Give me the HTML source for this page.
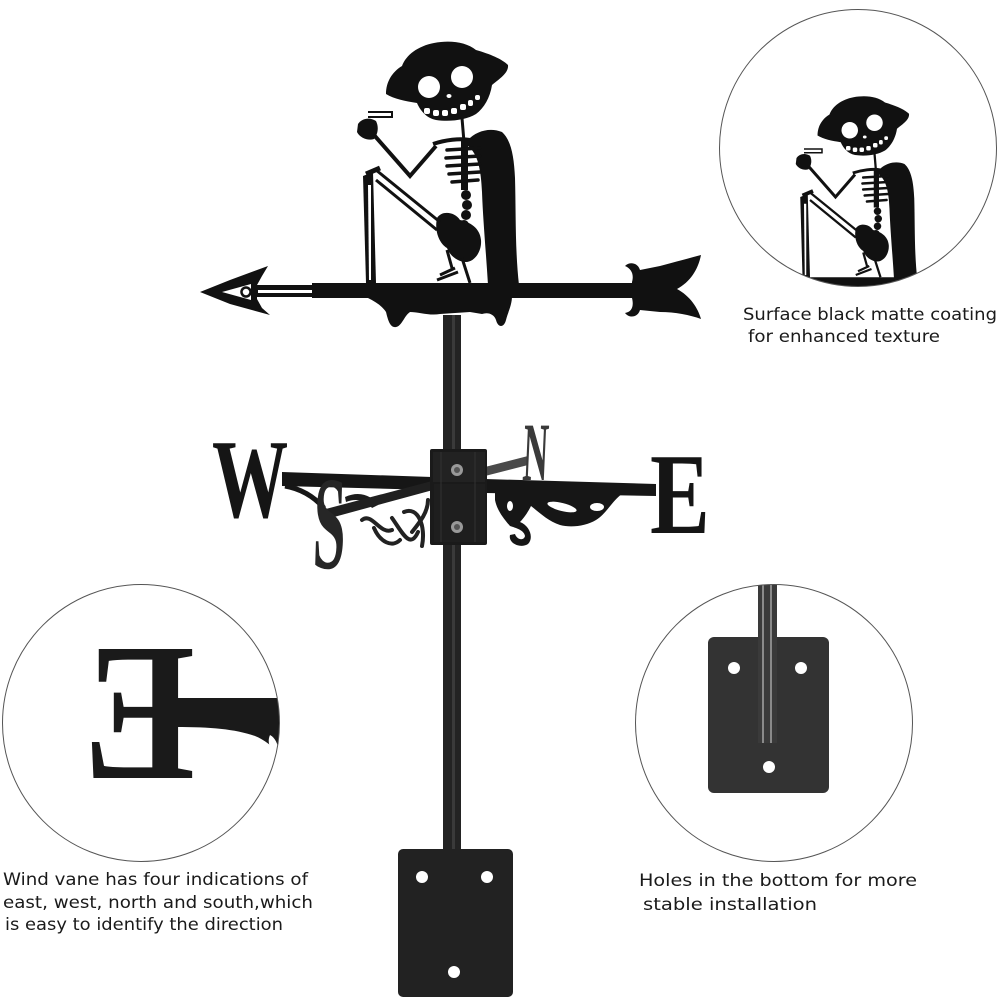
<!DOCTYPE html>
<html>
<head>
<meta charset="utf-8">
<style>
  html,body{margin:0;padding:0;background:#fff;}
  svg{display:block;}
  .cap{font-family:"DejaVu Sans","Liberation Sans",sans-serif;font-size:17px;fill:#1a1a1a;}
  .let{font-family:"Liberation Serif","DejaVu Serif",serif;font-weight:bold;}
</style>
</head>
<body>
<svg width="1000" height="1000" viewBox="0 0 1000 1000" xmlns="http://www.w3.org/2000/svg">
  <defs>
    <clipPath id="cTR"><circle cx="858" cy="148" r="138.5"/></clipPath>
    <clipPath id="cL"><circle cx="141" cy="723" r="138.5"/></clipPath>
    <clipPath id="cR"><circle cx="774" cy="723" r="138.5"/></clipPath>

    <g id="skel">
      <!-- hat + skull -->
      <path fill="#111" d="M386,94 C386,82 392,72 402,66 C406,55 418,46 434,43 C450,40 466,42 476,50 C490,54 502,59 508,65 C509,73 499,79 492,85 C490,98 484,108 476,114 C466,120 450,122 436,120 C426,118 420,110 417,103 C405,101 394,99 386,94 Z"/>
      <circle cx="429" cy="87" r="11" fill="#fff"/>
      <circle cx="462" cy="77" r="11" fill="#fff"/>
      <ellipse cx="449" cy="96" rx="2.5" ry="2" fill="#fff"/>
      <g fill="#fff">
        <rect x="424" y="108" width="6" height="6" rx="2"/>
        <rect x="433" y="110" width="6" height="6" rx="2"/>
        <rect x="442" y="110" width="6" height="6" rx="2"/>
        <rect x="451" y="108" width="6" height="6" rx="2"/>
        <rect x="460" y="104" width="6" height="6" rx="2"/>
        <rect x="468" y="100" width="5" height="6" rx="2"/>
        <rect x="475" y="95" width="5" height="5" rx="2"/>
      </g>
      <!-- neck -->
      <line x1="462" y1="118" x2="464" y2="142" stroke="#111" stroke-width="3"/>
      <!-- cigarette -->
      <path d="M368,112 L392,112 L392,117 L368,117" fill="none" stroke="#111" stroke-width="2"/>
      <!-- hand -->
      <path fill="#111" d="M358,124 C362,118 370,117 376,121 C379,127 378,134 374,139 C368,141 360,138 357,132 Z"/>
      <!-- arm -->
      <polyline points="374,135 410,176 436,146" fill="none" stroke="#111" stroke-width="4"/>
      <!-- shoulder line -->
      <path d="M433,144 C445,140 460,138 470,140" fill="none" stroke="#111" stroke-width="4"/>
      <!-- cape -->
      <path fill="#111" d="M468,140 C476,131 490,127 502,132 C511,140 514,156 515,178 C516,212 515,250 519,285 L488,285 C486,252 483,220 482,192 C481,170 478,154 468,146 Z"/>
      <!-- ribcage -->
      <rect x="461" y="140" width="7" height="50" fill="#111"/>
      <g stroke="#111" stroke-width="3.5" stroke-linecap="round">
        <line x1="447" y1="150" x2="480" y2="148"/>
        <line x1="446" y1="158" x2="480" y2="156"/>
        <line x1="447" y1="166" x2="480" y2="164"/>
        <line x1="449" y1="174" x2="480" y2="172"/>
        <line x1="452" y1="182" x2="478" y2="180"/>
      </g>
      <!-- spine -->
      <g fill="#111">
        <ellipse cx="466" cy="195" rx="5" ry="5"/>
        <ellipse cx="467" cy="205" rx="5" ry="5"/>
        <ellipse cx="466" cy="215" rx="5" ry="5"/>
        <ellipse cx="464" cy="225" rx="5" ry="5"/>
      </g>
      <!-- pelvis / hands -->
      <path fill="#111" d="M437,218 C442,210 455,212 460,220 C470,222 480,228 481,240 C482,252 474,262 466,262 C458,262 450,256 447,248 C440,244 434,232 437,218 Z"/>
      <path d="M447,250 L452,268 M462,258 L470,283 M437,280 L458,272 M440,275 L455,268" stroke="#111" stroke-width="3" fill="none"/>
      <!-- leg -->
      <path fill="#111" d="M363,176 L373,172 L376,283 L366,283 Z"/>
      <path fill="#fff" d="M368,185 L371,185 L371,280 L369,280 Z"/>
      <path d="M366,174 L380,168" stroke="#111" stroke-width="5"/>
      <!-- thigh -->
      <line x1="376" y1="170" x2="440" y2="222" stroke="#111" stroke-width="3"/>
      <line x1="376" y1="180" x2="437" y2="230" stroke="#111" stroke-width="3"/>
      <!-- bar -->
      <rect x="255" y="285" width="60" height="12" fill="#111"/>
      <rect x="312" y="283" width="322" height="15" fill="#111"/>
      <rect x="258" y="290" width="54" height="3" fill="#fff"/>
      <!-- arrowhead -->
      <path fill="#111" d="M200,292 L230,280 L268,266 L262,276 L257,285 L257,299 L262,308 L270,315 L230,304 Z"/>
      <path fill="#fff" d="M222,292 L251,284 L251,300 Z"/>
      <circle cx="246" cy="292" r="4.5" fill="#fff" stroke="#111" stroke-width="2.5"/>
      <!-- tail -->
      <path fill="#111" d="M625,266 C630,261 638,263 640,270 L660,266 C675,262 690,258 701,255 C698,270 690,282 677,289 C690,296 698,308 701,319 C690,315 675,312 660,312 L640,310 C638,317 630,319 625,313 C632,312 634,306 632,298 L632,282 C634,275 632,269 625,266 Z"/>
      <!-- under-bar decoration -->
      <path fill="#111" d="M368,296 L512,296 C512,305 508,312 506,320 C504,328 498,328 496,320 C494,314 488,312 482,314 L470,312 L440,314 C430,316 418,312 410,312 C404,316 402,326 396,327 C390,328 388,320 386,312 C382,306 376,302 368,298 Z"/>
    </g>
  </defs>

  <rect width="1000" height="1000" fill="#fff"/>

  <!-- ===== Main pole ===== -->
  <rect x="443" y="315" width="18" height="540" fill="#232323"/>
  <rect x="452" y="315" width="3" height="540" fill="#3a3a3a"/>

  <!-- ===== Main skeleton vane ===== -->
  <use href="#skel"/>

  <!-- ===== Compass ===== -->
  <!-- N arm (behind) -->
  <path fill="#4a4a4a" d="M485,467 L528,456 L528,465 L485,476 Z"/>
  <text class="let" x="0" y="0" font-size="83" fill="#3a3a3a" transform="translate(522,480) scale(0.42,1) skewX(-6)">N</text>

  <!-- W arm -->
  <path fill="#161616" d="M282,472 L432,477 L432,490 L282,486 Z"/>
  <path d="M285,486 Q308,490 324,508" fill="none" stroke="#161616" stroke-width="5"/>
  <path d="M345,497 C360,490 372,496 378,505 L372,508 C366,500 356,498 346,502 Z" fill="#1c1c1c"/>
  <text class="let" x="0" y="0" font-size="112" fill="#151515" transform="translate(212,517) scale(0.68,1)">W</text>

  <!-- S arm + decorations -->
  <path fill="#202020" d="M322,510 L432,481 L433,490 L323,520 Z"/>
  <g fill="none" stroke="#222" stroke-width="4" stroke-linecap="round">
    <path d="M362,520 C372,512 380,535 392,530"/>
    <path d="M374,528 C380,542 392,548 400,540"/>
    <path d="M392,518 C402,532 410,550 418,532"/>
    <path d="M404,512 C418,506 426,526 422,546"/>
    <path d="M412,532 C420,522 428,512 428,500"/>
  </g>
  <text class="let" x="0" y="0" font-size="133" fill="#262626" transform="translate(312,568) scale(0.44,1) skewX(-4)">S</text>

  <!-- E arm + decorations -->
  <path fill="#161616" d="M485,479 L656,484 L656,496 L485,493 Z"/>
  <path fill="#161616" d="M495,492 L622,494 C613,500 606,514 596,520 C586,526 571,528 560,525 C548,521 540,513 531,506 C528,512 524,518 520,522 C530,526 534,538 528,544 C520,549 508,543 510,535 L515,534 C517,540 524,541 525,536 C524,530 516,528 510,526 C503,518 497,510 495,500 Z"/>
  <ellipse cx="562" cy="507" rx="15" ry="4" fill="#fff" transform="rotate(14 562 507)"/>
  <ellipse cx="597" cy="507" rx="7" ry="4" fill="#fff"/>
  <ellipse cx="510" cy="506" rx="3" ry="5" fill="#fff"/>
  <text class="let" x="0" y="0" font-size="115" fill="#151515" transform="translate(650,533) scale(0.78,1)">E</text>

  <!-- central bracket -->
  <rect x="430" y="449" width="57" height="96" rx="2" fill="#1a1a1a"/>
  <rect x="433" y="452" width="52" height="30" fill="#222"/>
  <rect x="434" y="484" width="51" height="58" fill="#1e1e1e"/>
  <line x1="441" y1="452" x2="441" y2="542" stroke="#333" stroke-width="1"/>
  <line x1="475" y1="452" x2="475" y2="542" stroke="#333" stroke-width="1"/>
  <circle cx="457" cy="470" r="6" fill="#999"/>
  <circle cx="457" cy="470" r="3" fill="#555"/>
  <circle cx="457" cy="527" r="6" fill="#999"/>
  <circle cx="457" cy="527" r="3" fill="#555"/>

  <!-- bottom plate -->
  <rect x="398" y="849" width="115" height="148" rx="5" fill="#222"/>
  <circle cx="422" cy="877" r="6" fill="#fff"/>
  <circle cx="487" cy="877" r="6" fill="#fff"/>
  <circle cx="454" cy="972" r="6" fill="#fff"/>

  <!-- ===== Top-right detail circle ===== -->
  <g clip-path="url(#cTR)">
    <use href="#skel" transform="translate(528,65) scale(0.75)"/>
  </g>
  <circle cx="858" cy="148" r="138.5" fill="none" stroke="#555" stroke-width="1"/>
  <text class="cap" x="743" y="320" textLength="254" lengthAdjust="spacingAndGlyphs">Surface black matte coating</text>
  <text class="cap" x="748" y="342" textLength="192" lengthAdjust="spacingAndGlyphs">for enhanced texture</text>

  <!-- ===== Left detail circle ===== -->
  <g clip-path="url(#cL)">
    <path fill="#1a1a1a" d="M176,698 L290,698 L290,770 C282,755 270,742 255,736 C235,729 210,727 176,727 Z"/>
    <path fill="#fff" d="M270,735 C276,738 280,748 278,756 C272,752 266,744 270,735 Z"/>
    <text class="let" x="0" y="0" font-size="197" fill="#1a1a1a" transform="translate(195,778) scale(-0.85,1)">E</text>
  </g>
  <circle cx="141" cy="723" r="138.5" fill="none" stroke="#555" stroke-width="1"/>
  <text class="cap" x="3" y="885" textLength="305" lengthAdjust="spacingAndGlyphs">Wind vane has four indications of</text>
  <text class="cap" x="3" y="908" textLength="310" lengthAdjust="spacingAndGlyphs">east, west, north and south,which</text>
  <text class="cap" x="5" y="930" textLength="278" lengthAdjust="spacingAndGlyphs">is easy to identify the direction</text>

  <!-- ===== Right detail circle ===== -->
  <g clip-path="url(#cR)">
    <rect x="708" y="637" width="121" height="156" rx="6" fill="#333"/>
    <circle cx="734" cy="668" r="6" fill="#fff"/>
    <circle cx="801" cy="668" r="6" fill="#fff"/>
    <circle cx="769" cy="767" r="6" fill="#fff"/>
    <rect x="758" y="580" width="19" height="163" fill="#3a3a3a"/>
    <rect x="762" y="580" width="2" height="163" fill="#8a8a8a"/>
    <rect x="770" y="580" width="2" height="163" fill="#8a8a8a"/>
  </g>
  <circle cx="774" cy="723" r="138.5" fill="none" stroke="#555" stroke-width="1"/>
  <text class="cap" x="639" y="886" textLength="278" lengthAdjust="spacingAndGlyphs">Holes in the bottom for more</text>
  <text class="cap" x="643" y="910" textLength="174" lengthAdjust="spacingAndGlyphs">stable installation</text>
</svg>
</body>
</html>
